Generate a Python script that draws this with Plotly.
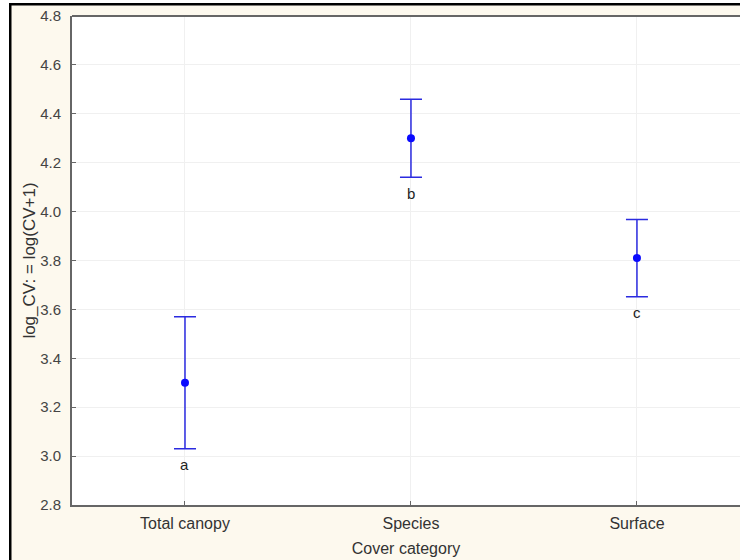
import plotly.graph_objects as go

categories = ["Total canopy", "Species", "Surface"]
means = [3.30, 4.30, 3.81]
errors = [0.27, 0.16, 0.158]
letters = ["a", "b", "c"]
y_ticks = [2.8, 3.0, 3.2, 3.4, 3.6, 3.8, 4.0, 4.2, 4.4, 4.6, 4.8]

W, H = 740, 560
L, T, B = 72, 16, 505
R = 740

def px(x):
    return (x - L) / (R - L)

def py(y):
    return (B - y) / (B - T)

fig = go.Figure()
fig.add_trace(go.Scatter(
    x=list(range(len(categories))), y=means,
    mode="markers",
    marker=dict(color="#0a0aff", size=8),
    error_y=dict(type="data", array=errors, visible=True,
                 color="#2b2be0", thickness=1.5, width=11),
    showlegend=False,
))

for i, (m, e, lt) in enumerate(zip(means, errors, letters)):
    fig.add_annotation(x=i, y=m - e, text=lt, showarrow=False,
                       yshift=-16, font=dict(size=15, color="#222"))

shapes = [
    dict(type="rect", xref="paper", yref="paper", x0=px(0), x1=px(9), y0=py(H), y1=py(0),
         fillcolor="white", line=dict(width=0), layer="above"),
    dict(type="rect", xref="paper", yref="paper", x0=px(0), x1=px(W), y0=py(3), y1=py(0),
         fillcolor="white", line=dict(width=0), layer="above"),
    dict(type="rect", xref="paper", yref="paper", x0=px(9), x1=px(11.5), y0=py(H), y1=py(3),
         fillcolor="black", line=dict(width=0), layer="above"),
    dict(type="rect", xref="paper", yref="paper", x0=px(9), x1=px(W), y0=py(5.5), y1=py(3),
         fillcolor="black", line=dict(width=0), layer="above"),
    dict(type="line", xref="paper", yref="paper", x0=0, x1=1, y0=1, y1=1,
         line=dict(color="#666", width=2), layer="above"),
]

fig.update_layout(
    width=W, height=H,
    margin=dict(l=L, r=W - R, t=T, b=H - B, pad=0),
    paper_bgcolor="#fdf9ee",
    plot_bgcolor="white",
    font=dict(family="Liberation Sans, Arial, sans-serif", size=15, color="#333"),
    shapes=shapes,
    xaxis=dict(
        range=[-0.5, 2.456],
        tickmode="array", tickvals=list(range(len(categories))), ticktext=categories,
        showgrid=True, gridcolor="#f0f0f0", gridwidth=1,
        showline=True, linecolor="#666", linewidth=2,
        ticks="inside", ticklen=4, tickcolor="#666",
        ticklabelstandoff=3,
        zeroline=False,
        title=dict(text="Cover category", standoff=12, font=dict(size=16, color="#333")),
        tickfont=dict(size=16, color="#333"),
    ),
    yaxis=dict(
        range=[2.8, 4.8],
        tickmode="array", tickvals=y_ticks, ticktext=[f"{v:.1f}" for v in y_ticks],
        showgrid=True, gridcolor="#f0f0f0", gridwidth=1,
        showline=True, linecolor="#666", linewidth=2,
        ticks="inside", ticklen=4, tickcolor="#666",
        ticklabelstandoff=6,
        zeroline=False,
        title=dict(text="log_CV: = log(CV+1)", standoff=0, font=dict(size=17, color="#333")),
        tickfont=dict(size=15, color="#444"),
    ),
)

fig.write_html("out.html")
